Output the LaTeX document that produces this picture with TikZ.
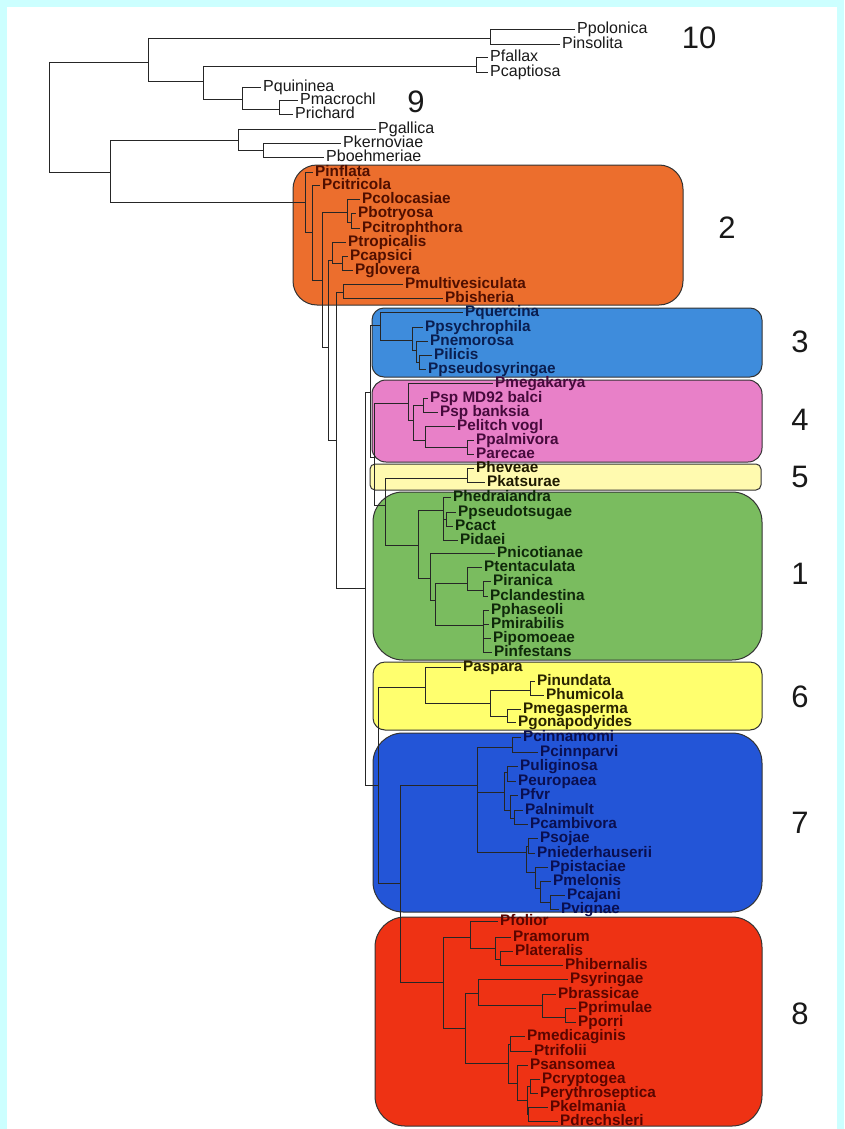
\documentclass[tikz,border=0pt]{standalone}
\usepackage{fontspec}
\setmainfont{Liberation Sans}
\definecolor{cyanbg}{RGB}{204,255,255}
\definecolor{c2}{RGB}{236,110,45}
\definecolor{c3}{RGB}{62,140,220}
\definecolor{c4}{RGB}{232,128,200}
\definecolor{c5}{RGB}{255,250,175}
\definecolor{c1}{RGB}{122,188,95}
\definecolor{c6}{RGB}{255,255,110}
\definecolor{c7}{RGB}{35,85,215}
\definecolor{c8}{RGB}{238,50,20}
\definecolor{t2}{RGB}{80,15,0}
\definecolor{t3}{RGB}{10,30,80}
\definecolor{t4}{RGB}{70,10,60}
\definecolor{t5}{RGB}{30,25,0}
\definecolor{t1}{RGB}{15,40,10}
\definecolor{t6}{RGB}{40,35,0}
\definecolor{t7}{RGB}{10,15,80}
\definecolor{t8}{RGB}{90,5,0}
% binary split: vertical bar of the parent, then one horizontal per child
\newcommand\kids[3]{\draw[br] (#1 |- #2) -- (#1 |- #3);
  \foreach \ch in {#2,#3}{\draw[br] (#1 |- \ch) -- (\ch);}}
% split with further children between the outer two
\newcommand\kidsm[4]{\draw[br] (#1 |- #2) -- (#1 |- #3);
  \foreach \ch in {#2,#3,#4}{\draw[br] (#1 |- \ch) -- (\ch);}}
\begin{document}
\begin{tikzpicture}[x=1pt,y=-1pt,
  br/.style={draw=black!85,line width=0.85pt},
  tl/.style={anchor=west,inner xsep=2pt,inner ysep=0.5pt,text height=10.5pt,text depth=1pt,
    font=\fontsize{16}{16}\selectfont,text=black!90},
  bl/.style={anchor=west,inner xsep=2pt,inner ysep=0.5pt,text height=10pt,text depth=1pt,
    font=\fontsize{15.3}{15.3}\selectfont\bfseries},
  b2/.style={bl,text=t2},b3/.style={bl,text=t3},b4/.style={bl,text=t4},
  b5/.style={bl,text=t5},b1/.style={bl,text=t1},b6/.style={bl,text=t6},
  b7/.style={bl,text=t7},b8/.style={bl,text=t8},
  num/.style={inner sep=0pt,font=\fontsize{31}{31}\selectfont,text=black!90},
  grp/.style={draw=black!80,line width=1pt}]

% page frame
\fill[cyanbg] (0,0) rectangle (844,1129);
\fill[white] (7,7) rectangle (837,1129);
\useasboundingbox (0,0) rectangle (844,1129);

% clade boxes
\path[grp,fill=c2,rounded corners=24pt] (293,165) rectangle (683,305);
\path[grp,fill=c3,rounded corners=12pt] (372,308) rectangle (762,377);
\path[grp,fill=c4,rounded corners=14pt] (372,380) rectangle (762,462);
\path[grp,fill=c5,rounded corners=5pt]  (370,464) rectangle (761,490);
\path[grp,fill=c1,rounded corners=30pt] (373,492) rectangle (762,660);
\path[grp,fill=c6,rounded corners=12pt] (373,662) rectangle (762,730);
\path[grp,fill=c7,rounded corners=30pt] (373,733) rectangle (762,912);
\path[grp,fill=c8,rounded corners=30pt] (375,917) rectangle (762,1126);

% internal nodes
\coordinate (root) at (49,117);
\coordinate (u1) at (148,62);
\coordinate (u2) at (110,172);
\coordinate (n10) at (490,38);
\coordinate (u3) at (203,81);
\coordinate (nfc) at (476,66);
\coordinate (n9) at (242,99);
\coordinate (n9b) at (279,109);
\coordinate (ng) at (238,140);
\coordinate (nk) at (263,150);
\coordinate (A) at (305,202);
\coordinate (B) at (312,232);
\coordinate (C) at (322,280);
\coordinate (D) at (347,212);
\coordinate (F) at (351,222);
\coordinate (E) at (328,347);
\coordinate (G) at (332,260);
\coordinate (I) at (342,263);
\coordinate (H) at (336,440);
\coordinate (J) at (343,292);
\coordinate (K) at (365,588);
\coordinate (L) at (370,392);
\coordinate (N3) at (380,325);
\coordinate (N3b) at (412,340);
\coordinate (N3c) at (416,350);
\coordinate (N3d) at (419,362);
\coordinate (L2) at (374,457);
\coordinate (P4) at (408,403);
\coordinate (Q) at (413,420);
\coordinate (S4a) at (423,405);
\coordinate (S4b) at (425,440);
\coordinate (S4c) at (467,447);
\coordinate (R) at (385,505);
\coordinate (N5) at (467,478);
\coordinate (N1) at (418,545);
\coordinate (N1a) at (443,510);
\coordinate (N1a2) at (446,519);
\coordinate (N1b) at (430,578);
\coordinate (N1c) at (435,600);
\coordinate (N1d) at (467,583);
\coordinate (N1e) at (483,625);
\coordinate (N1f) at (483,590);
\coordinate (M) at (378,785);
\coordinate (N6) at (425,687);
\coordinate (N6b) at (490,703);
\coordinate (N6c) at (530,690);
\coordinate (N6d) at (507,716);
\coordinate (U) at (400,883);
\coordinate (N7) at (477,785);
\coordinate (N7a) at (512,747);
\coordinate (W) at (504,792);
\coordinate (W1) at (507,772);
\coordinate (W2) at (510,810);
\coordinate (W3) at (514,818);
\coordinate (X) at (526,852);
\coordinate (X1) at (528,846);
\coordinate (X2) at (535,872);
\coordinate (X3) at (540,888);
\coordinate (X4) at (550,902);
\coordinate (N8) at (443,982);
\coordinate (N8a) at (470,937);
\coordinate (N8c) at (495,948);
\coordinate (N8d) at (500,959);
\coordinate (N8b) at (465,1028);
\coordinate (N8e) at (478,993);
\coordinate (N8g) at (542,1005);
\coordinate (N8h) at (565,1017);
\coordinate (N8f) at (508,1063);
\coordinate (N8i) at (510,1044);
\coordinate (N8j) at (517,1083);
\coordinate (N8k) at (527,1100);
\coordinate (N8l) at (530,1086);
\coordinate (N8m) at (528,1114);

% outgroup taxa
\node[tl] (ppolonica) at (575,29) {Ppolonica};
\node[tl] (pinsolita) at (560,44) {Pinsolita};
\node[tl] (pfallax) at (488,57) {Pfallax};
\node[tl] (pcaptiosa) at (488,72) {Pcaptiosa};
\node[tl] (pquininea) at (261,87) {Pquininea};
\node[tl] (pmacrochl) at (298,100) {Pmacrochl};
\node[tl] (prichard) at (293,114) {Prichard};
\node[tl] (pgallica) at (376,129) {Pgallica};
\node[tl] (pkernoviae) at (341,143) {Pkernoviae};
\node[tl] (pboehmeriae) at (324,157) {Pboehmeriae};

% clade 2
\node[b2] (pinflata) at (313,172) {Pinflata};
\node[b2] (pcitricola) at (320,185) {Pcitricola};
\node[b2] (pcolocasiae) at (360,199) {Pcolocasiae};
\node[b2] (pbotryosa) at (356,213) {Pbotryosa};
\node[b2] (pcitrophthora) at (360,228) {Pcitrophthora};
\node[b2] (ptropicalis) at (346,242) {Ptropicalis};
\node[b2] (pcapsici) at (348,256) {Pcapsici};
\node[b2] (pglovera) at (353,270) {Pglovera};
\node[b2] (pmultivesiculata) at (403,284) {Pmultivesiculata};
\node[b2] (pbisheria) at (443,298) {Pbisheria};

% clade 3
\node[b3] (pquercina) at (463,312) {Pquercina};
\node[b3] (ppsychrophila) at (423,327) {Ppsychrophila};
\node[b3] (pnemorosa) at (428,341) {Pnemorosa};
\node[b3] (pilicis) at (432,355) {Pilicis};
\node[b3] (ppseudosyringae) at (426,369) {Ppseudosyringae};

% clade 4
\node[b4] (pmegakarya) at (493,383) {Pmegakarya};
\node[b4] (pspbalci) at (428,398) {Psp MD92 balci};
\node[b4] (pspbanksia) at (438,412) {Psp banksia};
\node[b4] (pelitch) at (455,426) {Pelitch vogl};
\node[b4] (ppalmivora) at (474,440) {Ppalmivora};
\node[b4] (parecae) at (474,454) {Parecae};

% clade 5
\node[b5] (pheveae) at (474,468) {Pheveae};
\node[b5] (pkatsurae) at (485,482) {Pkatsurae};

% clade 1
\node[b1] (phedraiandra) at (451,497) {Phedraiandra};
\node[b1] (ppseudotsugae) at (456,512) {Ppseudotsugae};
\node[b1] (pcact) at (453,526) {Pcact};
\node[b1] (pidaei) at (458,540) {Pidaei};
\node[b1] (pnicotianae) at (495,553) {Pnicotianae};
\node[b1] (ptentaculata) at (482,567) {Ptentaculata};
\node[b1] (piranica) at (491,581) {Piranica};
\node[b1] (pclandestina) at (488,596) {Pclandestina};
\node[b1] (pphaseoli) at (489,610) {Pphaseoli};
\node[b1] (pmirabilis) at (489,624) {Pmirabilis};
\node[b1] (pipomoeae) at (491,638) {Pipomoeae};
\node[b1] (pinfestans) at (492,652) {Pinfestans};

% clade 6
\node[b6] (paspara) at (461,667) {Paspara};
\node[b6] (pinundata) at (535,681) {Pinundata};
\node[b6] (phumicola) at (544,695) {Phumicola};
\node[b6] (pmegasperma) at (521,709) {Pmegasperma};
\node[b6] (pgonapodyides) at (516,722) {Pgonapodyides};

% clade 7
\node[b7] (pcinnamomi) at (521,737) {Pcinnamomi};
\node[b7] (pcinnparvi) at (538,752) {Pcinnparvi};
\node[b7] (puliginosa) at (518,766) {Puliginosa};
\node[b7] (peuropaea) at (516,781) {Peuropaea};
\node[b7] (pfvr) at (518,795) {Pfvr};
\node[b7] (palnimult) at (523,810) {Palnimult};
\node[b7] (pcambivora) at (528,824) {Pcambivora};
\node[b7] (psojae) at (538,838) {Psojae};
\node[b7] (pniederhauserii) at (535,853) {Pniederhauserii};
\node[b7] (ppistaciae) at (548,867) {Ppistaciae};
\node[b7] (pmelonis) at (551,881) {Pmelonis};
\node[b7] (pcajani) at (565,895) {Pcajani};
\node[b7] (pvignae) at (559,909) {Pvignae};

% clade 8
\node[b8] (pfolior) at (498,921) {Pfolior};
\node[b8] (pramorum) at (511,937) {Pramorum};
\node[b8] (plateralis) at (513,951) {Plateralis};
\node[b8] (phibernalis) at (563,965) {Phibernalis};
\node[b8] (psyringae) at (568,979) {Psyringae};
\node[b8] (pbrassicae) at (556,994) {Pbrassicae};
\node[b8] (pprimulae) at (576,1008) {Pprimulae};
\node[b8] (pporri) at (576,1022) {Pporri};
\node[b8] (pmedicaginis) at (525,1036) {Pmedicaginis};
\node[b8] (ptrifolii) at (532,1051) {Ptrifolii};
\node[b8] (psansomea) at (528,1065) {Psansomea};
\node[b8] (pcryptogea) at (540,1079) {Pcryptogea};
\node[b8] (perythroseptica) at (538,1093) {Perythroseptica};
\node[b8] (pkelmania) at (548,1107) {Pkelmania};
\node[b8] (pdrechsleri) at (558,1121) {Pdrechsleri};

% branches
\kids{root}{u1}{u2}
\kids{u1}{n10}{u3}
\kids{n10}{ppolonica}{pinsolita}
\kids{u3}{nfc}{n9}
\kids{nfc}{pfallax}{pcaptiosa}
\kids{n9}{pquininea}{n9b}
\kids{n9b}{pmacrochl}{prichard}
\kids{u2}{ng}{A}
\kids{ng}{pgallica}{nk}
\kids{nk}{pkernoviae}{pboehmeriae}
\kids{A}{pinflata}{B}
\kids{B}{pcitricola}{C}
\kids{C}{D}{E}
\kids{D}{pcolocasiae}{F}
\kids{F}{pbotryosa}{pcitrophthora}
\kids{E}{G}{H}
\kids{G}{ptropicalis}{I}
\kids{I}{pcapsici}{pglovera}
\kids{H}{J}{K}
\kids{J}{pmultivesiculata}{pbisheria}
\kids{K}{L}{M}
\kids{L}{N3}{L2}
\kids{N3}{pquercina}{N3b}
\kids{N3b}{ppsychrophila}{N3c}
\kids{N3c}{pnemorosa}{N3d}
\kids{N3d}{pilicis}{ppseudosyringae}
\kids{L2}{P4}{R}
\kids{P4}{pmegakarya}{Q}
\kids{Q}{S4a}{S4b}
\kids{S4a}{pspbalci}{pspbanksia}
\kids{S4b}{pelitch}{S4c}
\kids{S4c}{ppalmivora}{parecae}
\kids{R}{N5}{N1}
\kids{N5}{pheveae}{pkatsurae}
\kids{N1}{N1a}{N1b}
\kidsm{N1a}{phedraiandra}{pidaei}{N1a2}
\kids{N1a2}{ppseudotsugae}{pcact}
\kids{N1b}{pnicotianae}{N1c}
\kids{N1c}{N1d}{N1e}
\kids{N1d}{ptentaculata}{N1f}
\kids{N1f}{piranica}{pclandestina}
\kidsm{N1e}{pphaseoli}{pinfestans}{pmirabilis,pipomoeae}
\kids{M}{N6}{U}
\kids{N6}{paspara}{N6b}
\kids{N6b}{N6c}{N6d}
\kids{N6c}{pinundata}{phumicola}
\kids{N6d}{pmegasperma}{pgonapodyides}
\kids{U}{N7}{N8}
\kidsm{N7}{N7a}{X}{W}
\kids{N7a}{pcinnamomi}{pcinnparvi}
\kids{W}{W1}{W2}
\kids{W1}{puliginosa}{peuropaea}
\kids{W2}{pfvr}{W3}
\kids{W3}{palnimult}{pcambivora}
\kids{X}{X1}{X2}
\kids{X1}{psojae}{pniederhauserii}
\kids{X2}{ppistaciae}{X3}
\kids{X3}{pmelonis}{X4}
\kids{X4}{pcajani}{pvignae}
\kids{N8}{N8a}{N8b}
\kids{N8a}{pfolior}{N8c}
\kids{N8c}{pramorum}{N8d}
\kids{N8d}{plateralis}{phibernalis}
\kids{N8b}{N8e}{N8f}
\kids{N8e}{psyringae}{N8g}
\kids{N8g}{pbrassicae}{N8h}
\kids{N8h}{pprimulae}{pporri}
\kids{N8f}{N8i}{N8j}
\kids{N8i}{pmedicaginis}{ptrifolii}
\kids{N8j}{psansomea}{N8k}
\kids{N8k}{N8l}{N8m}
\kids{N8l}{pcryptogea}{perythroseptica}
\kids{N8m}{pkelmania}{pdrechsleri}

% group numbers
\node[num] (g10) at (699,38) {10};
\node[num] (g9) at (416,102) {9};
\node[num] (g2) at (727,228) {2};
\node[num] (g3) at (800,342) {3};
\node[num] (g4) at (800,420) {4};
\node[num] (g5) at (800,477) {5};
\node[num] (g1) at (800,574) {1};
\node[num] (g6) at (800,697) {6};
\node[num] (g7) at (800,823) {7};
\node[num] (g8) at (800,1014) {8};
\end{tikzpicture}
\end{document}
